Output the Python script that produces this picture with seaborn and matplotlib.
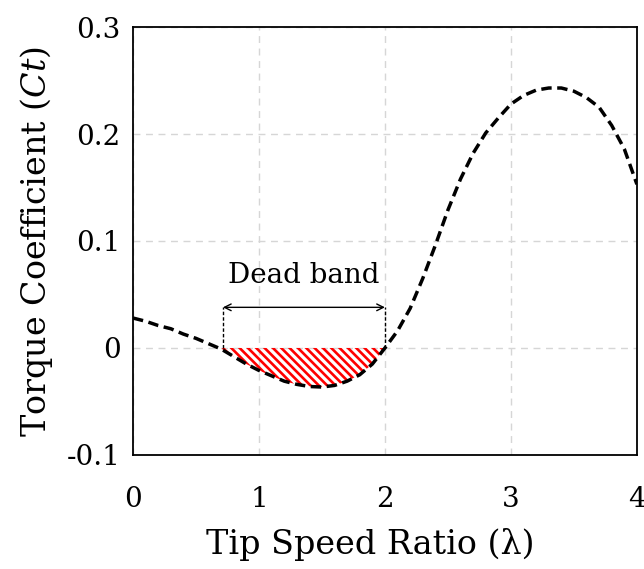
import numpy as np
import pandas as pd
import matplotlib
matplotlib.use("Agg")
import matplotlib.pyplot as plt
import seaborn as sns

# Data
tsr = [0.0, 0.1, 0.2, 0.3, 0.4, 0.5, 0.6, 0.7, 0.8, 0.9,
       1.0, 1.1, 1.2, 1.3, 1.4, 1.5, 1.6, 1.7, 1.8, 1.9,
       2.0, 2.1, 2.2, 2.3, 2.4, 2.5, 2.6, 2.7, 2.8, 2.9,
       3.0, 3.1, 3.2, 3.3, 3.4, 3.5, 3.6, 3.7, 3.8, 3.9, 4.0]
ct = [0.028, 0.025, 0.021, 0.018, 0.013, 0.009, 0.004, -0.001, -0.008, -0.015,
      -0.021, -0.026, -0.031, -0.034, -0.036, -0.0365, -0.035, -0.031, -0.025, -0.015,
      0.000, 0.016, 0.037, 0.065, 0.096, 0.129, 0.158, 0.182, 0.201, 0.215,
      0.228, 0.236, 0.241, 0.243, 0.243, 0.240, 0.234, 0.225, 0.208, 0.186, 0.153]
dead_band = [0.714, 2.0]
x_ticks = [0, 1, 2, 3, 4]
y_ticks = [-0.1, 0.0, 0.1, 0.2, 0.3]
y_tick_labels = ["-0.1", "0", "0.1", "0.2", "0.3"]

df = pd.DataFrame({"tsr": tsr, "ct": ct})

sns.set_theme(style="white")
plt.rcParams["font.family"] = ["DejaVu Serif"]
plt.rcParams["mathtext.fontset"] = "dejavuserif"
plt.rcParams["hatch.linewidth"] = 1.9

fig = plt.figure(figsize=(6.44, 5.69), dpi=100)
ax = fig.add_axes([0.2065, 0.2004, 0.7825, 0.7521])

ax.grid(True, color="#d6d6d6", linestyle=(0, (5, 4)), linewidth=1.0)
ax.set_axisbelow(True)

sns.lineplot(data=df, x="tsr", y="ct", ax=ax, color="black", linewidth=2.5,
             linestyle=(0, (3, 1.6)), zorder=3)

# hatched dead-band area
x_arr = np.array(tsr)
y_arr = np.array(ct)
mask = (x_arr >= 0.7) & (x_arr <= dead_band[1])
xs = np.concatenate([[dead_band[0]], x_arr[mask]])
ys = np.concatenate([[0.0], np.minimum(y_arr[mask], 0)])
ax.fill_between(xs, ys, 0, facecolor="none", edgecolor="red", hatch="\\\\\\\\",
                linewidth=0, zorder=2)

arrow_y = 0.038
for xv in dead_band:
    ax.plot([xv, xv], [0, arrow_y], color="black", linestyle=(0, (2.5, 1.5)),
            linewidth=1.0, zorder=4)
ax.annotate("", xy=(dead_band[0], arrow_y), xytext=(dead_band[1], arrow_y),
            arrowprops=dict(arrowstyle="<->", color="black", lw=1.0,
                            shrinkA=0, shrinkB=0, mutation_scale=12), zorder=4)
ax.text(1.357, 0.068, "Dead band", ha="center", va="center", fontsize=20,
        color="black")

ax.set_xlim(0, 4)
ax.set_ylim(-0.1, 0.3)
ax.set_xticks(x_ticks)
ax.set_xticklabels([str(t) for t in x_ticks])
ax.set_yticks(y_ticks)
ax.set_yticklabels(y_tick_labels)
ax.tick_params(axis="both", length=0, labelsize=20, colors="black")
ax.tick_params(axis="y", pad=9)
ax.tick_params(axis="x", pad=22)

for s in ax.spines.values():
    s.set_color("black")
    s.set_linewidth(1.3)

ax.set_xlabel("Tip Speed Ratio (λ)", fontsize=24, color="black")
ax.set_ylabel("Torque Coefficient ($Ct$)", fontsize=24, color="black", labelpad=8)
ax.xaxis.set_label_coords(0.47, -0.17)

fig.savefig("out.png", dpi=100)
